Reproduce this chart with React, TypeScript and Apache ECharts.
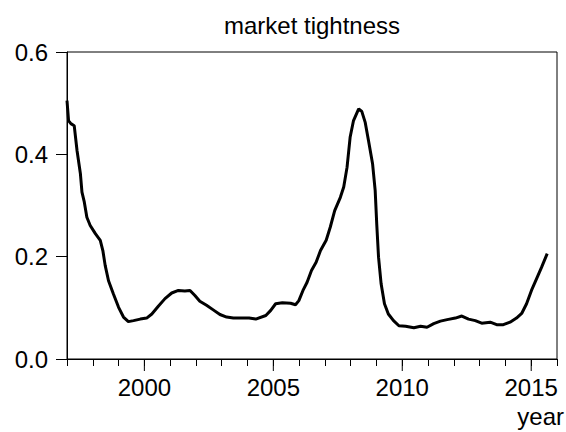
import React, { useEffect, useRef } from "react";
import * as echarts from "echarts";

const titleText = "market tightness";
const xAxisName = "year";
const yTicks = [0, 0.2, 0.4, 0.6];
const majorYears = [2000, 2005, 2010, 2015];

const years = [
  1997.0, 1997.06, 1997.15, 1997.28, 1997.39, 1997.52, 1997.58, 1997.67, 1997.77, 1997.9,
  1998.1, 1998.29, 1998.39, 1998.48, 1998.61, 1998.8, 1999.0, 1999.19, 1999.38, 1999.58,
  1999.84, 2000.09, 2000.29, 2000.54, 2000.8, 2001.06, 2001.32, 2001.57, 2001.77, 2001.96,
  2002.15, 2002.41, 2002.67, 2002.93, 2003.19, 2003.45, 2003.68, 2004.06, 2004.32, 2004.71,
  2004.9, 2005.09, 2005.35, 2005.67, 2005.86, 2005.99, 2006.15, 2006.31, 2006.48, 2006.66,
  2006.83, 2007.05, 2007.21, 2007.38, 2007.6, 2007.73, 2007.86, 2007.98, 2008.11, 2008.31,
  2008.43, 2008.56, 2008.69, 2008.85, 2008.95, 2009.01, 2009.08, 2009.18, 2009.31, 2009.46,
  2009.66, 2009.87, 2010.13, 2010.45, 2010.71, 2010.96, 2011.22, 2011.48, 2011.74, 2012.06,
  2012.31, 2012.57, 2012.83, 2013.08, 2013.41, 2013.66, 2013.92, 2014.18, 2014.43, 2014.63,
  2014.82, 2015.01, 2015.21, 2015.4, 2015.62,
];

const tightness = [
  0.505, 0.466, 0.46, 0.456, 0.407, 0.362, 0.326, 0.307, 0.277, 0.261,
  0.245, 0.232, 0.212, 0.183, 0.153, 0.127, 0.101, 0.082, 0.073, 0.075,
  0.078, 0.08, 0.088, 0.103, 0.118, 0.129, 0.134, 0.133, 0.134, 0.124,
  0.113, 0.105, 0.096, 0.087, 0.082, 0.08, 0.08, 0.08, 0.078, 0.085,
  0.095, 0.108, 0.11, 0.109, 0.106, 0.114, 0.134, 0.15, 0.173, 0.189,
  0.212, 0.232, 0.258, 0.29, 0.316, 0.336, 0.375, 0.434, 0.466, 0.489,
  0.484, 0.463, 0.427, 0.381, 0.329, 0.264, 0.199, 0.147, 0.108, 0.088,
  0.075, 0.065, 0.064, 0.061, 0.064, 0.062, 0.069, 0.074, 0.077, 0.08,
  0.084, 0.078, 0.075, 0.07, 0.072, 0.067, 0.067, 0.072, 0.08, 0.089,
  0.108, 0.134, 0.157, 0.179, 0.206,
];

const FONT = "'Liberation Sans', Arial, sans-serif";

export default function App() {
  const ref = useRef<HTMLDivElement>(null);

  useEffect(() => {
    if (!ref.current) return;
    const chart = echarts.init(ref.current, null, { renderer: "svg" });
    const lineData = years.map((y, i) => [y, tightness[i]]);
    chart.setOption({
      animation: false,
      backgroundColor: "#fff",
      textStyle: { fontFamily: FONT },
      grid: {
        left: 67,
        right: 9,
        top: 52,
        bottom: 73,
        show: true,
        borderColor: "#000",
        borderWidth: 1,
      },
      graphic: [
        {
          type: "text",
          x: 312,
          y: 25,
          style: {
            text: titleText,
            fill: "#000",
            font: `24px ${FONT}`,
            textAlign: "center",
            textVerticalAlign: "middle",
          },
        },
        {
          type: "text",
          x: 564,
          y: 416,
          style: {
            text: xAxisName,
            fill: "#000",
            font: `24px ${FONT}`,
            textAlign: "right",
            textVerticalAlign: "middle",
          },
        },
      ],
      xAxis: {
        type: "value",
        min: 1997,
        max: 2016,
        interval: 1,
        axisLine: { show: true, lineStyle: { color: "#000", width: 1 } },
        axisTick: { show: true, length: 7, lineStyle: { color: "#000", width: 1 } },
        axisLabel: {
          color: "#000",
          fontSize: 24,
          fontFamily: FONT,
          margin: 16,
          formatter: (v: number) => (majorYears.includes(Math.round(v)) ? String(Math.round(v)) : ""),
          showMinLabel: true,
          showMaxLabel: true,
        },
        splitLine: { show: false },
      },
      yAxis: {
        type: "value",
        min: yTicks[0],
        max: yTicks[yTicks.length - 1],
        interval: 0.2,
        axisLine: { show: true, lineStyle: { color: "#000", width: 1 } },
        axisTick: { show: true, length: 11, lineStyle: { color: "#000", width: 1 } },
        axisLabel: {
          color: "#000",
          fontSize: 24,
          fontFamily: FONT,
          margin: 19,
          formatter: (v: number) => v.toFixed(1),
        },
        splitLine: { show: false },
      },
      series: [
        {
          type: "line",
          data: lineData,
          showSymbol: false,
          symbol: "none",
          lineStyle: { color: "#000", width: 3 },
          clip: true,
        },
        {
          type: "custom",
          clip: false,
          silent: true,
          data: majorYears.map((y) => [y, 0]),
          renderItem: (_params: any, api: any) => {
            const p = api.coord([api.value(0), 0]);
            return {
              type: "line",
              shape: { x1: p[0], y1: p[1], x2: p[0], y2: p[1] + 12 },
              style: { stroke: "#000", lineWidth: 1 },
            };
          },
        },
      ],
    });
    return () => chart.dispose();
  }, []);

  return (
    <div
      ref={ref}
      style={{ position: "fixed", left: 0, top: 0, width: 566, height: 432, background: "#fff" }}
    />
  );
}
